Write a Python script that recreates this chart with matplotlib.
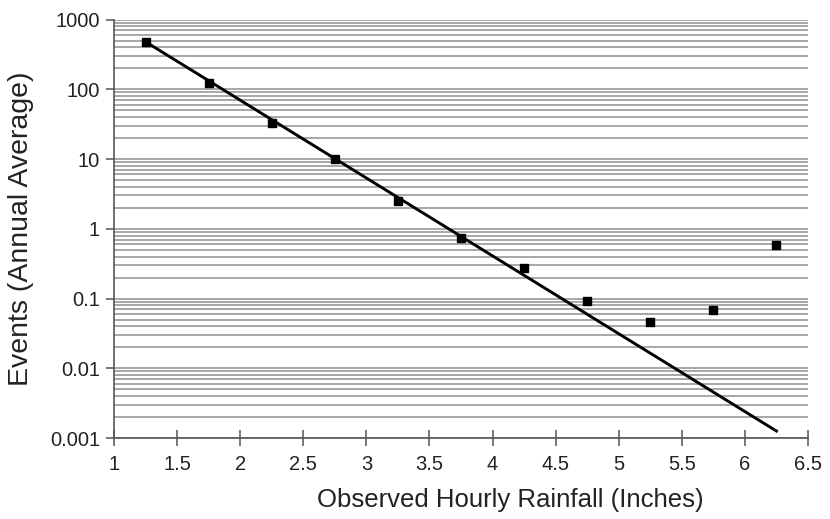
import matplotlib
matplotlib.use("Agg")
import matplotlib.pyplot as plt
import numpy as np
from matplotlib.ticker import FixedLocator, LogLocator, NullFormatter

rainfall = [1.25, 1.75, 2.25, 2.75, 3.25, 3.75, 4.25, 4.75, 5.25, 5.75, 6.25]
events = [470, 123, 33, 10, 2.5, 0.74, 0.27, 0.091, 0.046, 0.069, 0.59]
trend_x = [1.25, 6.25]
trend_y = [480, 0.00126]
x_ticks = [1, 1.5, 2, 2.5, 3, 3.5, 4, 4.5, 5, 5.5, 6, 6.5]
x_labels = ["1", "1.5", "2", "2.5", "3", "3.5", "4", "4.5", "5", "5.5", "6", "6.5"]
y_ticks = [0.001, 0.01, 0.1, 1, 10, 100, 1000]
y_labels = ["0.001", "0.01", "0.1", "1", "10", "100", "1000"]

plt.rcParams['font.family'] = ['Liberation Sans', 'DejaVu Sans']

fig = plt.figure(figsize=(8.3, 5.19), dpi=100)
ax = fig.add_axes([0.1373, 0.156, 0.8362, 0.8064])
ax.set_yscale('log')
ax.set_xlim(1, 6.5)
ax.set_ylim(0.001, 1000)

ax.yaxis.set_major_locator(FixedLocator(y_ticks))
ax.set_yticklabels(y_labels)
ax.yaxis.set_minor_locator(LogLocator(base=10, subs=np.arange(2, 10)))
ax.yaxis.set_minor_formatter(NullFormatter())
ax.set_xticks(x_ticks)
ax.set_xticklabels(x_labels)

ax.grid(True, which='both', axis='y', color='#a0a0a0', linewidth=1.3)
ax.set_axisbelow(True)

ax.plot(trend_x, trend_y, color='black', linewidth=2.1, zorder=3)
ax.plot(rainfall, events, linestyle='none', marker='s', color='black', markersize=6, zorder=4)

for s in ['top', 'right']:
    ax.spines[s].set_visible(False)
for s in ['left', 'bottom']:
    ax.spines[s].set_color('#555555')
    ax.spines[s].set_linewidth(1.2)

ax.tick_params(axis='y', which='major', direction='out', length=6, width=1.1, color='#555555',
               labelsize=14.5, pad=4, labelcolor='#222222')
ax.tick_params(axis='y', which='minor', length=0)
ax.tick_params(axis='x', which='major', direction='inout', length=11, width=1.1, color='#555555',
               labelsize=14.5, pad=7, labelcolor='#222222')

ax.set_xlabel('Observed Hourly Rainfall (Inches)', fontsize=18.5, color='#222222')
ax.set_ylabel('Events (Annual Average)', fontsize=20.5, color='#222222')
fig.canvas.draw()
inv = ax.transAxes.inverted()
xl = inv.transform((510, 519 - 500))
yl = inv.transform((21, 519 - 229))
ax.xaxis.set_label_coords(xl[0], xl[1])
ax.xaxis.label.set_va('center')
ax.yaxis.set_label_coords(yl[0], yl[1])
ax.yaxis.label.set_va('center')

fig.savefig('out.png', dpi=100)
